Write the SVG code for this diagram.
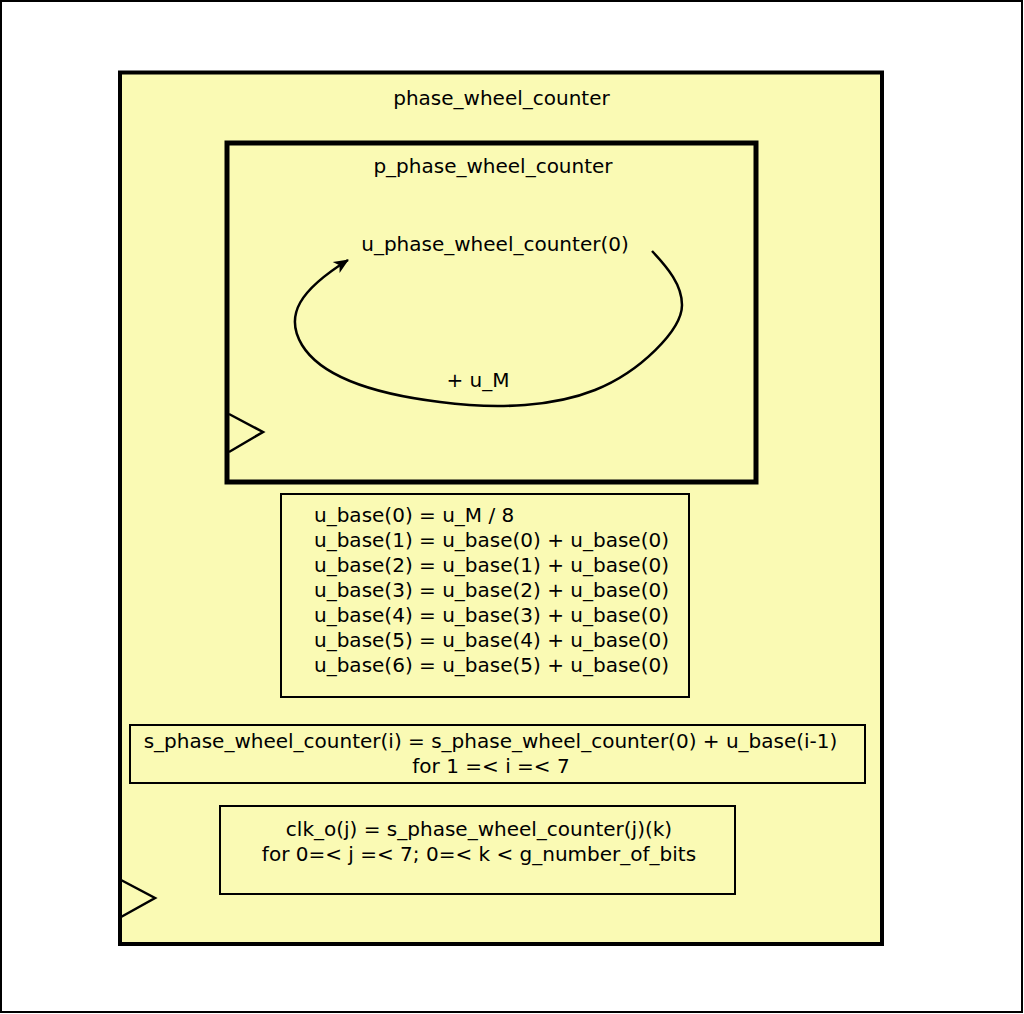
<svg xmlns="http://www.w3.org/2000/svg" width="1024" height="1014" viewBox="0 0 1024 1014">
<defs>
<style>
text{font-family:"DejaVu Sans","Liberation Sans",sans-serif;font-size:20px;fill:#000}
.c{text-anchor:middle}
.box{fill:#fafab4;stroke:#000}
.clk{fill:none;stroke:#000;stroke-width:2.5;stroke-linejoin:miter}
</style>
<marker id="arr" viewBox="-15 -7 17 14" markerWidth="17" markerHeight="14" refX="0" refY="0" orient="auto" markerUnits="userSpaceOnUse">
<path d="M1,0 L-14,-6.5 L-10,0 L-14,6.5 Z" fill="#000"/>
</marker>
</defs>
<rect x="0" y="0" width="1024" height="1014" fill="#fff"/>
<rect x="1" y="1" width="1021" height="1011" fill="none" stroke="#000" stroke-width="2"/>
<g id="phase_wheel_counter">
<rect class="box" x="120" y="72.5" width="762" height="871.5" stroke-width="4"/>
<text class="c" x="501.5" y="105">phase_wheel_counter</text>
<polyline class="clk" points="121,880 155,898 121,917"/>
</g>
<g id="p_phase_wheel_counter">
<rect class="box" x="227" y="143" width="529" height="339" stroke-width="5"/>
<text class="c" x="493" y="173">p_phase_wheel_counter</text>
<polyline class="clk" points="229,414 263,432 229,452"/>
</g>
<g id="u_phase_wheel_counter">
<text class="c" x="495" y="251">u_phase_wheel_counter(0)</text>
</g>
<g id="connectors">
<path d="M652,251 C668,268 682,285 682,305 C682,330 640,372 595,390 C555,406 500,410 440,402 C375,394 322,378 302,345 C284,315 300,290 348,260" fill="none" stroke="#000" stroke-width="2.5" marker-end="url(#arr)"/>
<text class="c" x="478" y="387">+ u_M</text>
</g>
<g id="u_base">
<rect class="box" x="281" y="494" width="408" height="203" stroke-width="2"/>
<text x="314" y="522">u_base(0) = u_M / 8</text>
<text x="314" y="547">u_base(1) = u_base(0) + u_base(0)</text>
<text x="314" y="572">u_base(2) = u_base(1) + u_base(0)</text>
<text x="314" y="597">u_base(3) = u_base(2) + u_base(0)</text>
<text x="314" y="622">u_base(4) = u_base(3) + u_base(0)</text>
<text x="314" y="647">u_base(5) = u_base(4) + u_base(0)</text>
<text x="314" y="672">u_base(6) = u_base(5) + u_base(0)</text>
</g>
<g id="s_phase_wheel_counter">
<rect class="box" x="130" y="725" width="735" height="58" stroke-width="2"/>
<text class="c" x="490.5" y="748">s_phase_wheel_counter(i) = s_phase_wheel_counter(0) + u_base(i-1)</text>
<text class="c" x="491" y="773">for 1 =&lt; i =&lt; 7</text>
</g>
<g id="clk_o">
<rect class="box" x="220" y="806" width="515" height="88" stroke-width="2"/>
<text class="c" x="479" y="836">clk_o(j) = s_phase_wheel_counter(j)(k)</text>
<text class="c" x="479" y="861">for 0=&lt; j =&lt; 7; 0=&lt; k &lt; g_number_of_bits</text>
</g>
</svg>
